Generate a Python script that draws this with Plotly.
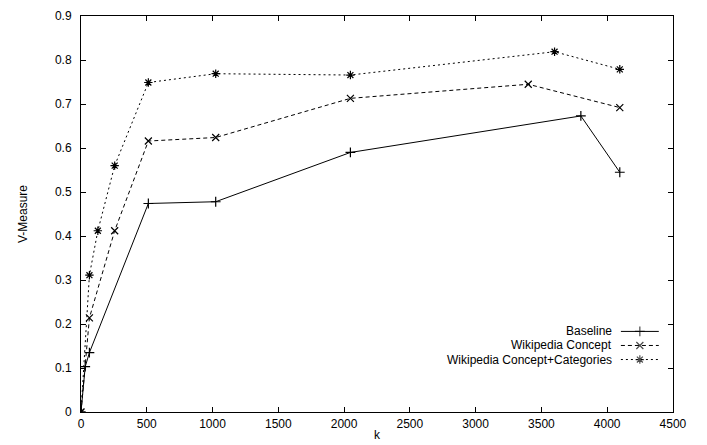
import plotly.graph_objects as go

# Data
k_baseline = [0, 32, 64, 512, 1024, 2048, 3800, 4096]
v_baseline = [0.0, 0.103, 0.135, 0.474, 0.478, 0.590, 0.673, 0.545]

k_concept = [0, 64, 256, 512, 1024, 2048, 3400, 4096]
v_concept = [0.0, 0.214, 0.412, 0.616, 0.624, 0.713, 0.745, 0.692]

k_cat = [0, 64, 128, 256, 512, 1024, 2048, 3600, 4096]
v_cat = [0.0, 0.311, 0.412, 0.560, 0.749, 0.769, 0.766, 0.819, 0.779]

series_names = ["Baseline", "Wikipedia Concept", "Wikipedia Concept+Categories"]
x_ticks = [0, 500, 1000, 1500, 2000, 2500, 3000, 3500, 4000, 4500]
y_ticks = [0, 0.1, 0.2, 0.3, 0.4, 0.5, 0.6, 0.7, 0.8, 0.9]
y_tick_labels = ["0", "0.1", "0.2", "0.3", "0.4", "0.5", "0.6", "0.7", "0.8", "0.9"]

FONT = "Liberation Sans, Arial, Helvetica, sans-serif"
styles = [
    dict(dash="solid", symbol="cross-thin", size=7),
    dict(dash="4px,3px", symbol="x-thin", size=7),
    dict(dash="2px,3px", symbol="asterisk-open", size=7),
]
data = [(k_baseline, v_baseline), (k_concept, v_concept), (k_cat, v_cat)]

fig = go.Figure()
for (xs, ys), name, st in zip(data, series_names, styles):
    fig.add_trace(go.Scatter(
        x=xs, y=ys, name=name, mode="lines+markers",
        line=dict(color="black", width=1, dash=st["dash"]),
        marker=dict(symbol=st["symbol"], size=st["size"], color="black",
                    line=dict(color="black", width=1.2)),
        showlegend=False,
    ))

# Custom gnuplot-style legend (text right-aligned, key sample to the right)
leg_rows = [0.2035, 0.168, 0.1325]
leg_text_x = 0.898
leg_line_x0, leg_line_x1, leg_mark_x = 0.912, 0.976, 0.944
for name, st, yr in zip(series_names, styles, leg_rows):
    fig.add_annotation(x=leg_text_x, y=yr, xref="paper", yref="paper",
                       text=name, showarrow=False, xanchor="right", yanchor="middle",
                       borderpad=0,
                       font=dict(family=FONT, size=12, color="black"))
    fig.add_trace(go.Scatter(
        x=[leg_line_x0, leg_mark_x, leg_line_x1], y=[yr, yr, yr],
        xaxis="x2", yaxis="y2", mode="lines+markers",
        line=dict(color="black", width=1, dash=st["dash"]),
        marker=dict(symbol=st["symbol"], size=[0, st["size"], 0], color="black",
                    line=dict(color="black", width=1.2)),
        showlegend=False, hoverinfo="skip",
    ))

axis_common = dict(
    showgrid=False, zeroline=False, showline=True, linecolor="black", linewidth=1,
    mirror="allticks", ticks="inside", ticklen=5, tickcolor="black", tickwidth=1,
    tickfont=dict(family=FONT, size=12, color="black"),
    ticklabeloverflow="allow", automargin=False,
)

fig.update_layout(
    width=707, height=445,
    margin=dict(l=73, r=42, t=8, b=41),
    paper_bgcolor="white", plot_bgcolor="white",
    font=dict(family=FONT, size=12, color="black"),
    xaxis=dict(range=[0, 4500.5], tickvals=x_ticks, ticktext=[str(t) for t in x_ticks],
               ticklabelstandoff=1,
               title=dict(text="k", standoff=0, font=dict(family=FONT, size=12)),
               **axis_common),
    yaxis=dict(range=[0, 0.9002], tickvals=y_ticks, ticktext=y_tick_labels,
               ticklabelstandoff=6,
               title=dict(text="V-Measure", standoff=24, font=dict(family=FONT, size=12)),
               **axis_common),
    xaxis2=dict(range=[0, 1], overlaying="x", visible=False, domain=[0, 1]),
    yaxis2=dict(range=[0, 1], overlaying="y", visible=False, domain=[0, 1]),
)

fig.write_html("out.html")
